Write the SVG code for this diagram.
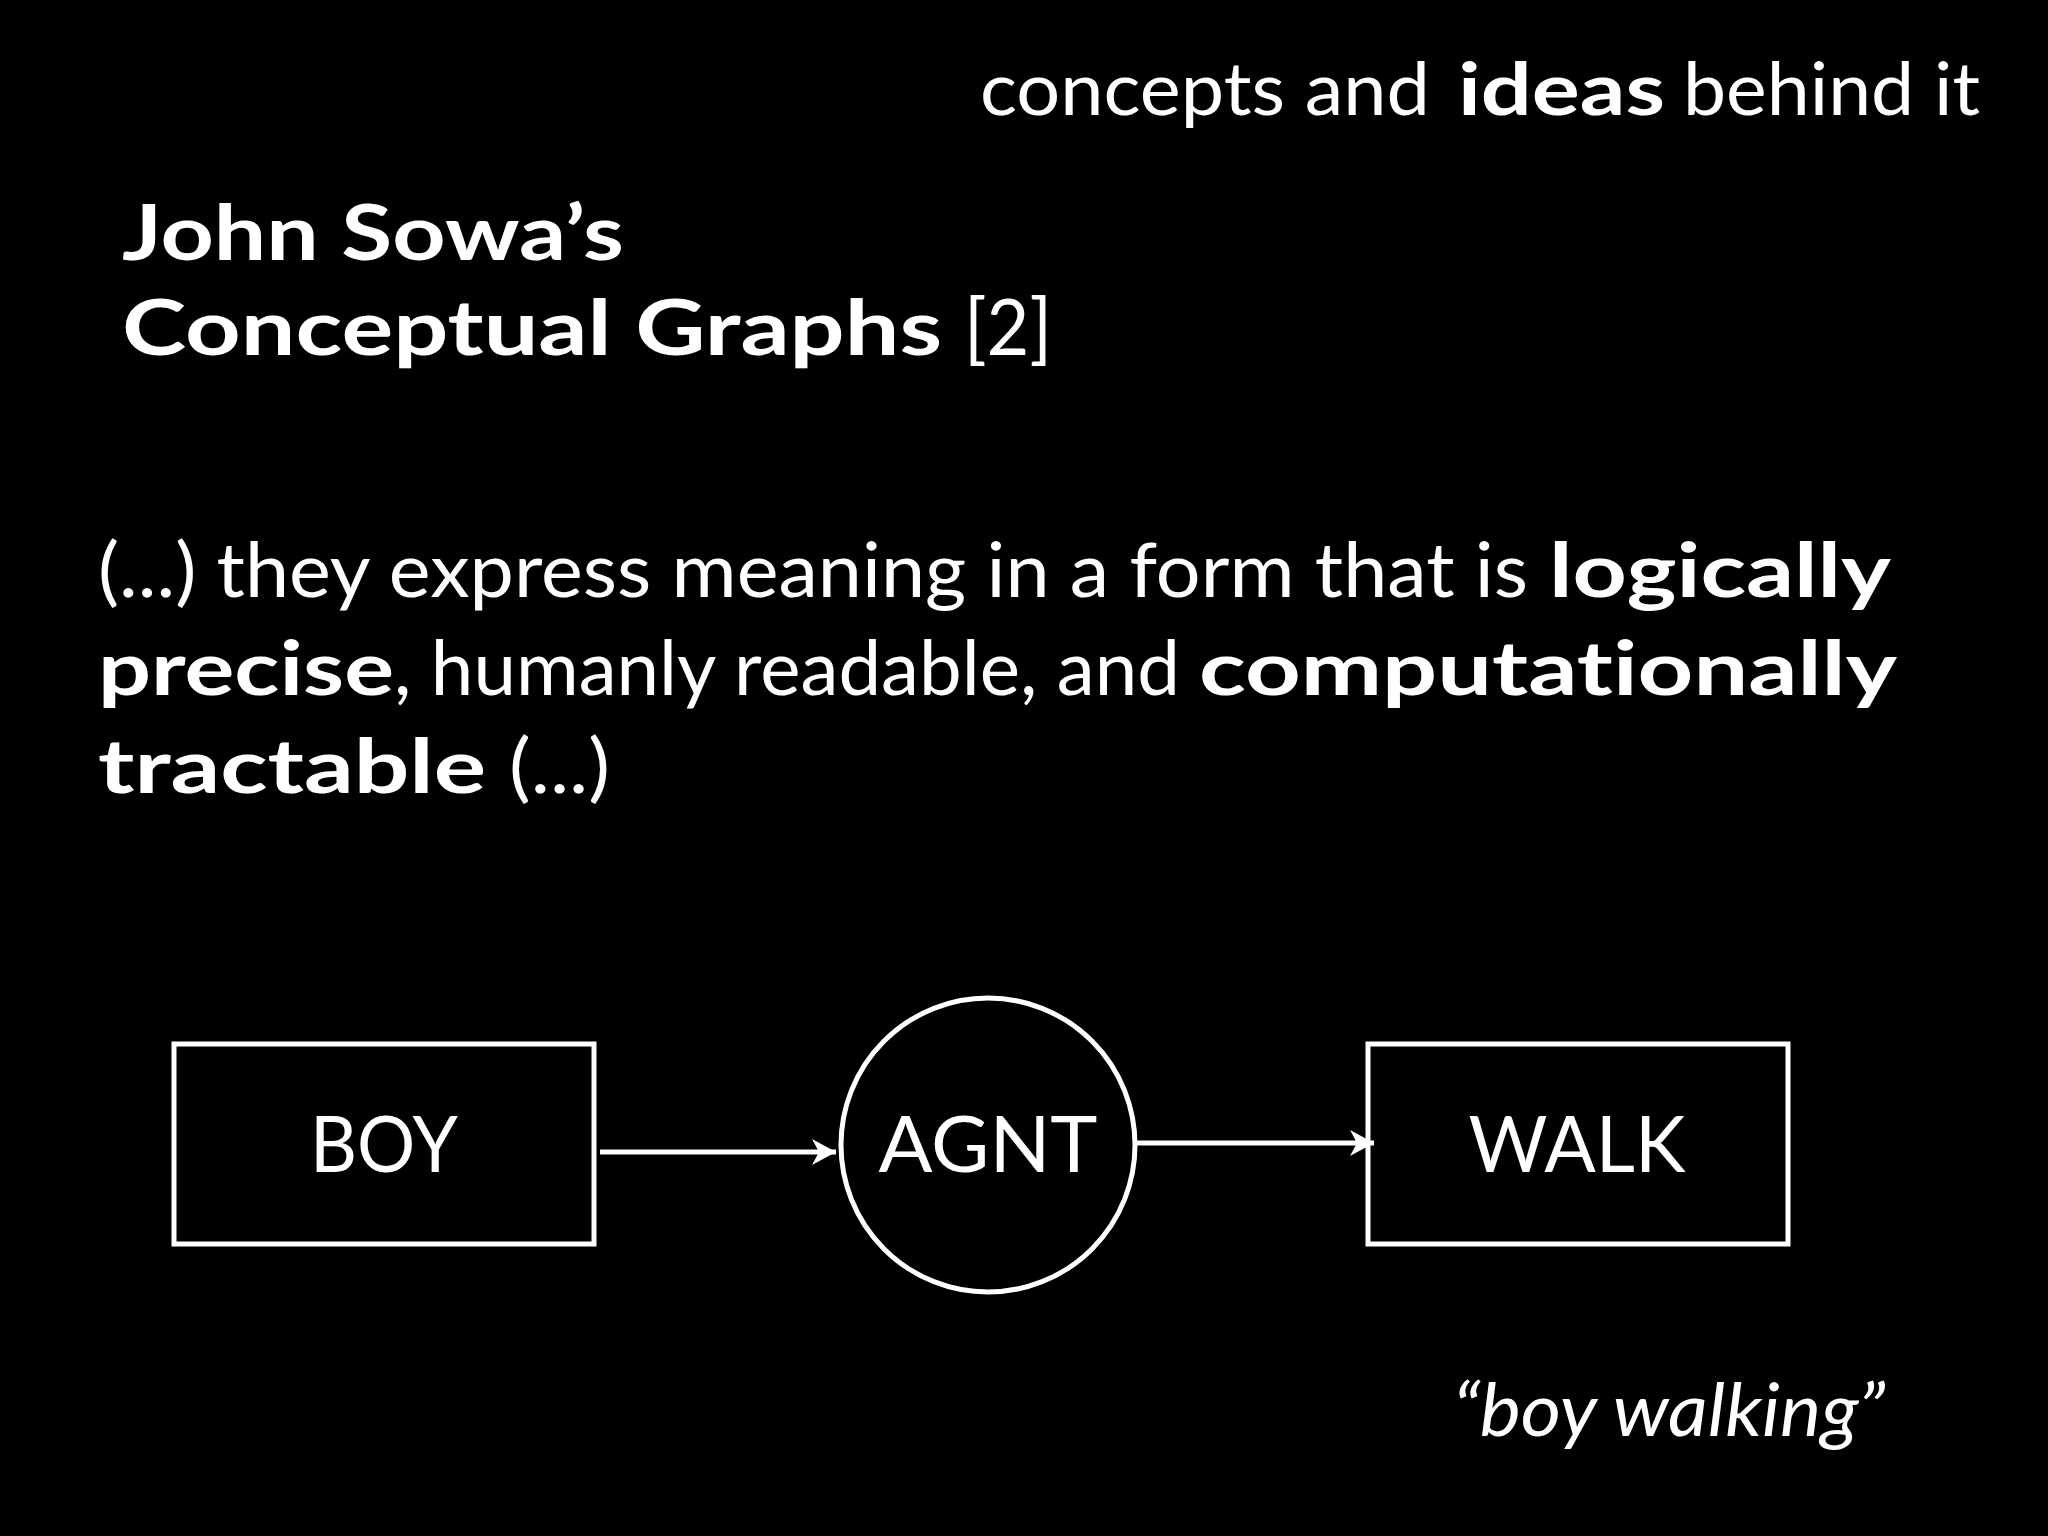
<svg xmlns="http://www.w3.org/2000/svg" width="2048" height="1536" viewBox="0 0 2048 1536">
<style>
  .t { font-family: Lato, "Liberation Sans", sans-serif; fill: #fff; font-variant-ligatures: none; }
  .b { font-weight: 700; }
  .n { font-weight: 400; }
  .i { font-style: italic; font-weight: 400; }
  .shape { fill: none; stroke: #fff; stroke-width: 5; }
  .edge { fill: none; stroke: #fff; stroke-width: 5; }
  .lbl { font-family: Lato, "Liberation Sans", sans-serif; fill: #fff; font-size: 77px; font-weight: 400; }
</style>
<defs>
  <marker id="arr" markerUnits="userSpaceOnUse" markerWidth="30" markerHeight="30" viewBox="-26 -15 28 30" refX="0" refY="0" orient="auto" overflow="visible">
    <path d="M0,0 L-24,-13 L-17,0 L-24,13 Z" fill="#fff"/>
  </marker>
</defs>
<rect x="0" y="0" width="2048" height="1536" fill="#000"/>

<g id="header">
  <text class="t n" x="980" y="115" font-size="73" textLength="450" lengthAdjust="spacingAndGlyphs">concepts and</text>
  <text class="t b" x="1458" y="115" font-size="73" textLength="207" lengthAdjust="spacingAndGlyphs">ideas</text>
  <text class="t n" x="1683" y="115" font-size="73" textLength="297" lengthAdjust="spacingAndGlyphs">behind it</text>
</g>

<g id="title">
  <text class="t b" x="122" y="260" font-size="77" textLength="502" lengthAdjust="spacingAndGlyphs">John Sowa’s</text>
  <text class="t b" x="122" y="355" font-size="77" textLength="820" lengthAdjust="spacingAndGlyphs">Conceptual Graphs</text>
  <text class="t n" x="964" y="355" font-size="77" textLength="88" lengthAdjust="spacingAndGlyphs">[2]</text>
</g>

<g id="quote-text">
  <text class="t n" x="98" y="597" font-size="75" textLength="1430" lengthAdjust="spacingAndGlyphs">(...) they express meaning in a form that is</text>
  <text class="t b" x="1549" y="597" font-size="75" textLength="342" lengthAdjust="spacingAndGlyphs">logically</text>
  <text class="t b" x="98" y="695" font-size="75" textLength="296" lengthAdjust="spacingAndGlyphs">precise</text>
  <text class="t n" x="394" y="695" font-size="75" textLength="786" lengthAdjust="spacingAndGlyphs">, humanly readable, and</text>
  <text class="t b" x="1199" y="695" font-size="75" textLength="698" lengthAdjust="spacingAndGlyphs">computationally</text>
  <text class="t b" x="98" y="793" font-size="75" textLength="388" lengthAdjust="spacingAndGlyphs">tractable</text>
  <text class="t n" x="509" y="793" font-size="75" textLength="101" lengthAdjust="spacingAndGlyphs">(...)</text>
</g>

<g id="connectors">
  <line class="edge" x1="600" y1="1152" x2="836" y2="1152" marker-end="url(#arr)"/>
  <line class="edge" x1="1136" y1="1143" x2="1374" y2="1143" marker-end="url(#arr)"/>
</g>

<g id="node-boy">
  <rect class="shape" x="174" y="1044" width="420" height="200"/>
  <text class="lbl" x="384" y="1172" text-anchor="middle" textLength="148" lengthAdjust="spacingAndGlyphs">BOY</text>
</g>

<g id="node-agnt">
  <circle class="shape" cx="988" cy="1145" r="147"/>
  <text class="lbl" x="988" y="1172" text-anchor="middle" textLength="219" lengthAdjust="spacingAndGlyphs">AGNT</text>
</g>

<g id="node-walk">
  <rect class="shape" x="1368" y="1044" width="420" height="200"/>
  <text class="lbl" x="1577" y="1172" text-anchor="middle" textLength="217" lengthAdjust="spacingAndGlyphs">WALK</text>
</g>

<g id="caption">
  <text class="t i" x="1453" y="1436" font-size="73" textLength="432" lengthAdjust="spacingAndGlyphs">“boy walking”</text>
</g>
</svg>
